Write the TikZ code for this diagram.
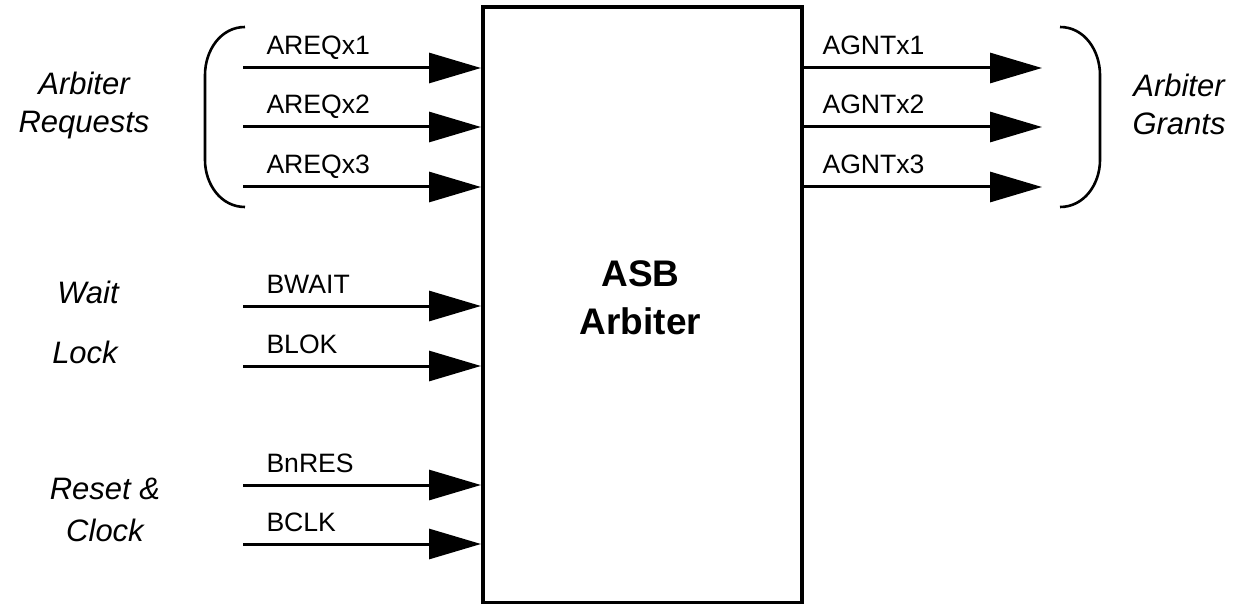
\documentclass[tikz,border=0pt]{standalone}
\usepackage{fontspec}
\setmainfont{Liberation Sans}
\usetikzlibrary{arrows.meta,positioning}

\begin{document}
\begin{tikzpicture}[x=0.5pt,y=-0.5pt,
  blk/.style={rectangle,draw,line width=2pt,minimum width=159.5pt,minimum height=298pt,inner sep=0pt},
  ttl/.style={font=\fontsize{18.5}{24}\selectfont\bfseries,align=center,inner sep=0pt},
  sig/.style={line width=1.5pt,-{Triangle[length=26pt,width=15pt]}},
  sname/.style={anchor=base west,inner sep=0pt,font=\fontsize{13.3}{15}\selectfont},
  grp/.style={font=\fontsize{15.5}{19}\selectfont\itshape,align=center,inner sep=0pt},
  brk/.style={line width=1.3pt}
]
  \useasboundingbox (0,0) rectangle (1236,604);

  % arbiter block
  \node[blk] (arb) at (642.5,305) {};
  \node[ttl] (arbname) at ([xshift=-1pt,yshift=3.5pt]arb.center) {ASB\\Arbiter};

  % free ends of the signals
  \coordinate (rq1) at (243,68);
  \coordinate (rq2) at (243,127);
  \coordinate (rq3) at (243,187);
  \coordinate (wt)  at (243,306);
  \coordinate (lk)  at (243,366);
  \coordinate (rs)  at (243,485);
  \coordinate (ck)  at (243,544);
  \coordinate (gn1) at (1042,68);
  \coordinate (gn2) at (1042,127);
  \coordinate (gn3) at (1042,187);

  % inputs
  \draw[sig] (rq1) -- (rq1 -| arb.west) node[sname,pos=0,xshift=11pt,yshift=6.5pt]{AREQx1};
  \draw[sig] (rq2) -- (rq2 -| arb.west) node[sname,pos=0,xshift=11pt,yshift=6.5pt]{AREQx2};
  \draw[sig] (rq3) -- (rq3 -| arb.west) node[sname,pos=0,xshift=11pt,yshift=6.5pt]{AREQx3};
  \draw[sig] (wt) -- (wt -| arb.west) node[sname,pos=0,xshift=11pt,yshift=6.5pt]{BWAIT};
  \draw[sig] (lk) -- (lk -| arb.west) node[sname,pos=0,xshift=11pt,yshift=6.5pt]{BLOK};
  \draw[sig] (rs) -- (rs -| arb.west) node[sname,pos=0,xshift=11pt,yshift=6.5pt]{BnRES};
  \draw[sig] (ck) -- (ck -| arb.west) node[sname,pos=0,xshift=11pt,yshift=6.5pt]{BCLK};

  % outputs
  \draw[sig] (gn1 -| arb.east) -- (gn1) node[sname,pos=0,xshift=8.5pt,yshift=6.5pt]{AGNTx1};
  \draw[sig] (gn2 -| arb.east) -- (gn2) node[sname,pos=0,xshift=8.5pt,yshift=6.5pt]{AGNTx2};
  \draw[sig] (gn3 -| arb.east) -- (gn3) node[sname,pos=0,xshift=8.5pt,yshift=6.5pt]{AGNTx3};

  % brackets
  \draw[brk] (245,27) to[out=180,in=90] (205,75) -- (205,160) to[out=-90,in=180] (245,207);
  \draw[brk] (1060,27) to[out=0,in=90] (1100,75) -- (1100,160) to[out=-90,in=0] (1060,207);

  % group names
  \node[grp] (reqs)  at (84,105)   {Arbiter\\Requests};
  \node[grp] (gnts)  at (1179,104) {Arbiter\\Grants};
  \node[grp,anchor=base] (wait) at (88,303) {Wait};
  \node[grp,anchor=base] (lock) at (85,363) {Lock};
  \node[grp,font=\fontsize{15.5}{21}\selectfont\itshape] (rstclk) at (105,510) {Reset \&\\Clock};
\end{tikzpicture}
\end{document}
